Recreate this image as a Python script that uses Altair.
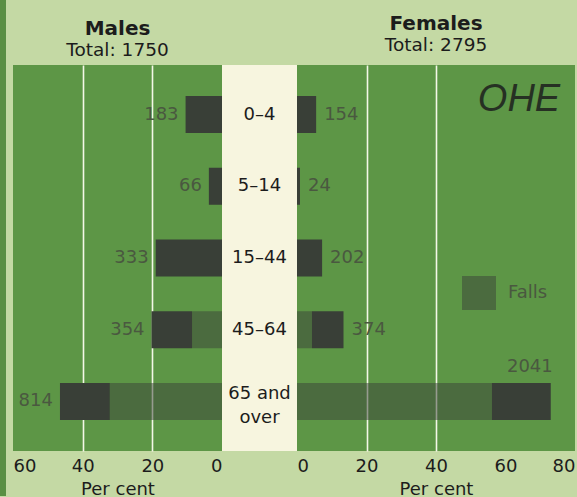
import altair as alt
import pandas as pd

# Age bands, top to bottom
ages = ["0–4", "5–14", "15–44", "45–64", "65 and\nover"]

# Cases by age band
male_counts = [183, 66, 333, 354, 814]
female_counts = [154, 24, 202, 374, 2041]
male_total = 1750
female_total = 2795

# Part of each band due to falls, per cent of all cases
male_falls = [0, 0, 0, 8.6, 32.2]
female_falls = [0, 0, 0, 4.3, 56.1]

male_ticks = [0, 20, 40, 60]
female_ticks = [0, 20, 40, 60, 80]

FONT = "DejaVu Sans"
PAGE = "#c4d9a4"
PANEL = "#5d9646"
BAND = "#f7f5df"
DARK = "#393f37"
LABEL = "#4a5840"
INK = "#1c1c1c"
TEXT_SIZE = 18


def frame(counts, total, falls):
    return pd.DataFrame({
        "age": ages,
        "count": counts,
        "pct": [c / total * 100 for c in counts],
        "falls": falls,
        "kind": ["Falls"] * len(ages),
    })


male_df = frame(male_counts, male_total, male_falls)
female_df = frame(female_counts, female_total, female_falls)

y_scale = alt.Scale(type="band", domain=ages, paddingInner=0.484, paddingOuter=0.432)
y_enc = alt.Y("age:N", sort=ages, scale=y_scale, axis=None)

grid_hide = {"condition": {"test": "datum.value === 0 || datum.value === 60 || datum.value === 80",
                           "value": 0}, "value": 1}


def x_axis(values):
    return alt.Axis(
        values=values, title="Per cent", format="d",
        grid=True, gridColor="#f3f7e7", gridWidth=1.6, gridOpacity=grid_hide,
        ticks=False, domain=False, labelFlush=True,
        labelFontSize=TEXT_SIZE, labelColor=INK, labelPadding=6, labelFont=FONT,
        titleFontSize=TEXT_SIZE, titleFontWeight="normal", titleColor=INK,
        titlePadding=5, titleFont=FONT,
    )


def panel_title(name, total, offset):
    return alt.Title(name, subtitle=f"Total: {total}", anchor="middle", frame="group",
                     fontSize=20, fontWeight="bold", font=FONT, color=INK,
                     subtitleFontSize=18.5, subtitleFont=FONT, subtitleColor=INK,
                     subtitlePadding=2, offset=offset)


def panel(df, domain, reverse, ticks, with_legend):
    x_scale = alt.Scale(domain=domain, reverse=reverse, nice=False)
    base = alt.Chart(df)
    solid = base.mark_bar(color=DARK).encode(
        x=alt.X("falls:Q", scale=x_scale, axis=x_axis(ticks)),
        x2="pct:Q",
        y=y_enc,
    )
    if with_legend:
        falls_color = alt.Color(
            "kind:N",
            scale=alt.Scale(domain=["Falls"], range=[DARK]),
            legend=alt.Legend(
                orient="none", legendX=165, legendY=211, title=None,
                symbolType="square", symbolSize=1156, symbolOpacity=0.5,
                symbolStrokeWidth=0, labelFontSize=TEXT_SIZE, labelColor=LABEL,
                labelFont=FONT, labelOffset=12,
            ),
        )
    else:
        falls_color = alt.value(DARK)
    falls = base.transform_filter("datum.falls > 0").mark_bar(opacity=0.5).encode(
        x=alt.X("falls:Q", scale=x_scale),
        x2=alt.datum(0),
        y=y_enc,
        color=falls_color,
    )
    return solid, falls, base, x_scale


# Males: axis runs from 60 at the outer edge to 0 at the centre band
m_solid, m_falls, m_base, m_x = panel(male_df, [0, 60], True, male_ticks, False)
m_labels = m_base.mark_text(align="right", dx=-7, fontSize=TEXT_SIZE, color=LABEL,
                            font=FONT).encode(
    x=alt.X("pct:Q", scale=m_x), y=y_enc, text="count:Q")

males = alt.layer(m_solid, m_falls, m_labels).properties(
    width=209, height=386,
    view=alt.ViewBackground(fill=PANEL, strokeWidth=0),
    title=panel_title("Males", male_total, 6),
)

# Centre band with the age labels, plus the darker page edge on the far left
single = alt.Chart(male_df).transform_filter("indexof(datum.age, '\\n') < 0").mark_text(
    fontSize=TEXT_SIZE, color=INK, font=FONT).encode(y=y_enc, text="age:N")
double = alt.Chart(male_df).transform_filter("indexof(datum.age, '\\n') >= 0").mark_text(
    fontSize=TEXT_SIZE, color=INK, font=FONT, lineBreak="\n", lineHeight=24, dy=-7).encode(
    y=y_enc, text="age:N")
edge = alt.Chart(pd.DataFrame({"k": [0]})).mark_rect(color="#5a8f44").encode(
    x=alt.value(-222), x2=alt.value(-216), y=alt.value(-65), y2=alt.value(431))
centre = alt.layer(edge, single, double).properties(
    width=75, height=386,
    view=alt.ViewBackground(fill=BAND, strokeWidth=0),
)

# Females: axis runs from 0 at the centre band to 80 at the outer edge
f_solid, f_falls, f_base, f_x = panel(female_df, [0, 80], False, female_ticks, True)
f_labels = f_base.transform_filter("datum.pct < 60").mark_text(
    align="left", dx=8, fontSize=TEXT_SIZE, color=LABEL, font=FONT).encode(
    x=alt.X("pct:Q", scale=f_x), y=y_enc, text="count:Q")
f_top = f_base.transform_filter("datum.pct >= 60").mark_text(
    align="right", dx=2, dy=-34, fontSize=TEXT_SIZE, color=LABEL, font=FONT).encode(
    x=alt.X("pct:Q", scale=f_x), y=y_enc, text="count:Q")
logo = alt.Chart(pd.DataFrame({"k": [0]})).mark_text(
    text="OHE", fontSize=38, fontStyle="italic", font="Liberation Sans",
    color="#263023").encode(x=alt.value(222), y=alt.value(35))

females = alt.layer(f_solid, f_falls, f_labels, f_top, logo).properties(
    width=278, height=386,
    view=alt.ViewBackground(fill=PANEL, strokeWidth=0),
    title=panel_title("Females", female_total, 11),
)

chart = alt.hconcat(males, centre, females, spacing=0, bounds="flush").resolve_scale(
    x="independent", color="independent"
).resolve_legend(color="independent").properties(
    background=PAGE,
    padding={"left": 0, "top": 0, "right": 2, "bottom": 0},
).configure_view(strokeWidth=0)

chart.save("out.html", embed_options={"renderer": "svg", "actions": False})
